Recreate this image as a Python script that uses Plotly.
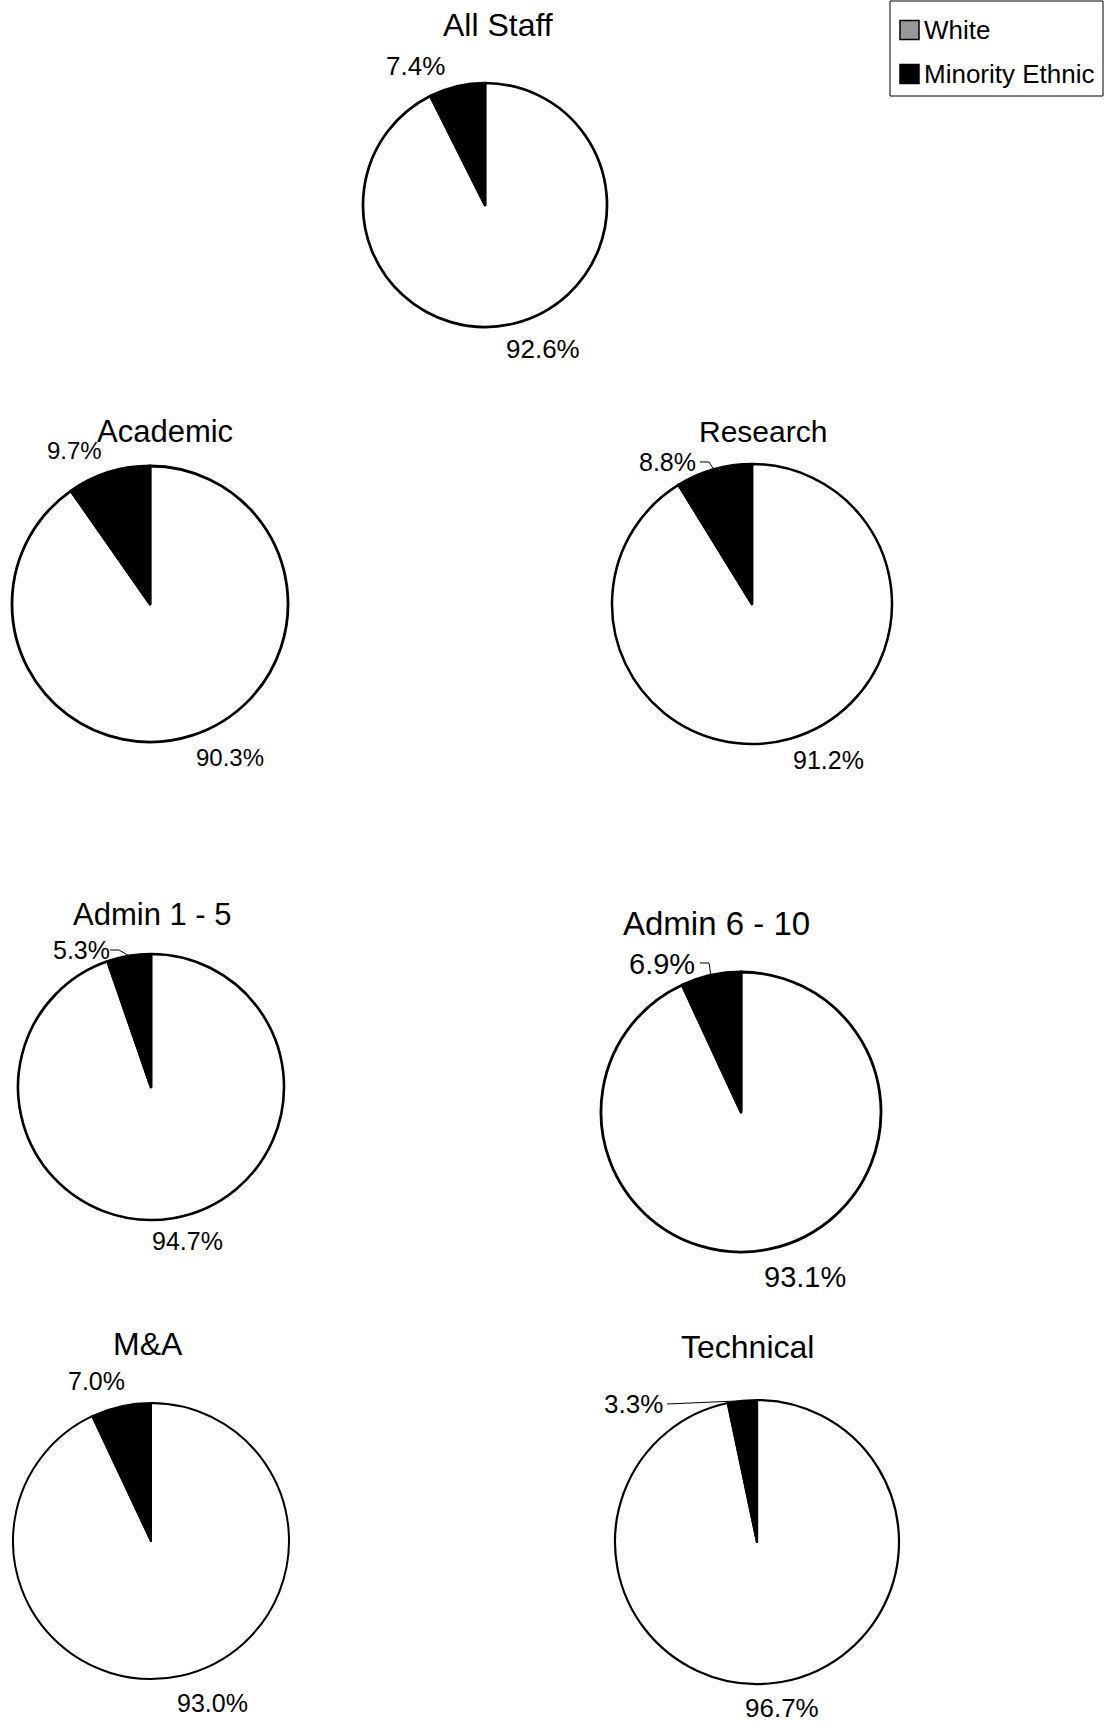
import math
import plotly.graph_objects as go

# ethnicity split by staff group (percent)
groups = ["All Staff", "Academic", "Research", "Admin 1 - 5", "Admin 6 - 10", "M&A", "Technical"]
categories = ["White", "Minority Ethnic"]
white_pct = [92.6, 90.3, 91.2, 94.7, 93.1, 93.0, 96.7]
minority_pct = [7.4, 9.7, 8.8, 5.3, 6.9, 7.0, 3.3]

W, H = 1105, 1722
FONT = "Liberation Sans, Arial, sans-serif"

# layout in page pixels: pie centre x, centre y, radius
pie_geo = [(485, 205, 122), (150, 604, 138), (752, 604, 140), (151, 1087, 133),
           (741, 1112, 140), (151, 1541, 138), (757, 1542, 142)]
pie_line = [2.7, 2.8, 2.5, 2.6, 2.8, 2.0, 2.2]
title_xy = [(498, 25), (165, 432), (763, 432), (152, 914), (716, 923), (148, 1344), (747, 1347)]
title_size = [32, 31, 30, 31, 33, 32, 32]
minority_xy = [(415, 66), (74, 450), (667, 462), (81, 950), (662, 964), (97, 1381), (633, 1404)]
white_xy = [(543, 349), (230, 758), (828, 760), (187, 1241), (805, 1277), (212, 1703), (782, 1708)]
label_size = [26, 24, 25, 25, 29, 25, 26]
# start of leader line (right end of label), for labels sitting off the slice
leader_start = {2: (700, 462), 3: (110, 950), 4: (700, 963), 6: (667, 1404)}


def px(x):
    return x / W


def py(y):
    return 1 - y / H


fig = go.Figure()
annotations = []
shapes = []

for i, g in enumerate(groups):
    cx, cy, r = pie_geo[i]
    fig.add_trace(go.Pie(
        labels=categories, values=[white_pct[i], minority_pct[i]],
        sort=False, direction="clockwise", rotation=0,
        marker=dict(colors=["white", "black"], line=dict(color="black", width=pie_line[i])),
        textinfo="none", hoverinfo="label+percent", showlegend=False,
        domain=dict(x=[px(cx - r), px(cx + r)], y=[py(cy + r), py(cy - r)]),
    ))
    annotations.append(dict(x=px(title_xy[i][0]), y=py(title_xy[i][1]), text=g,
                            font=dict(size=title_size[i])))
    annotations.append(dict(x=px(minority_xy[i][0]), y=py(minority_xy[i][1]),
                            text=f"{minority_pct[i]:.1f}%", font=dict(size=label_size[i])))
    annotations.append(dict(x=px(white_xy[i][0]), y=py(white_xy[i][1]),
                            text=f"{white_pct[i]:.1f}%", font=dict(size=label_size[i])))
    if i in leader_start:
        sx, sy = leader_start[i]
        a = math.radians(minority_pct[i] / 2 * 3.6)
        ex, ey = cx - r * math.sin(a), cy - r * math.cos(a)
        if i == 6:
            path = f"M{px(sx)},{py(sy)} L{px(ex)},{py(ey)}"
        else:
            path = f"M{px(sx)},{py(sy)} L{px(sx + 9)},{py(sy)} L{px(ex)},{py(ey)}"
        shapes.append(dict(type="path", xref="paper", yref="paper", path=path,
                           line=dict(color="black", width=1)))

# legend box
shapes.append(dict(type="rect", xref="paper", yref="paper", x0=px(890), x1=px(1103),
                   y0=py(96), y1=py(1), line=dict(color="black", width=1), fillcolor="white"))
leg_fill = ["#999999", "black"]
for k, name in enumerate(categories):
    yc = 30 + k * 44
    shapes.append(dict(type="rect", xref="paper", yref="paper", x0=px(900), x1=px(919),
                       y0=py(yc + 9.5), y1=py(yc - 9.5), line=dict(color="black", width=1.5),
                       fillcolor=leg_fill[k]))
    annotations.append(dict(x=px(922), y=py(yc), text=name, xanchor="left",
                            font=dict(size=26)))

for a in annotations:
    a.setdefault("xanchor", "center")
    a["yanchor"] = "middle"
    a["showarrow"] = False
    a["xref"] = "paper"
    a["yref"] = "paper"

fig.update_layout(
    width=W, height=H,
    margin=dict(l=0, r=0, t=0, b=0),
    paper_bgcolor="white", plot_bgcolor="white",
    font=dict(family=FONT, color="black"),
    annotations=annotations, shapes=shapes,
    showlegend=False,
)
fig.write_html("out.html", config={"displayModeBar": False},
               post_script="document.body.style.margin='0';")
